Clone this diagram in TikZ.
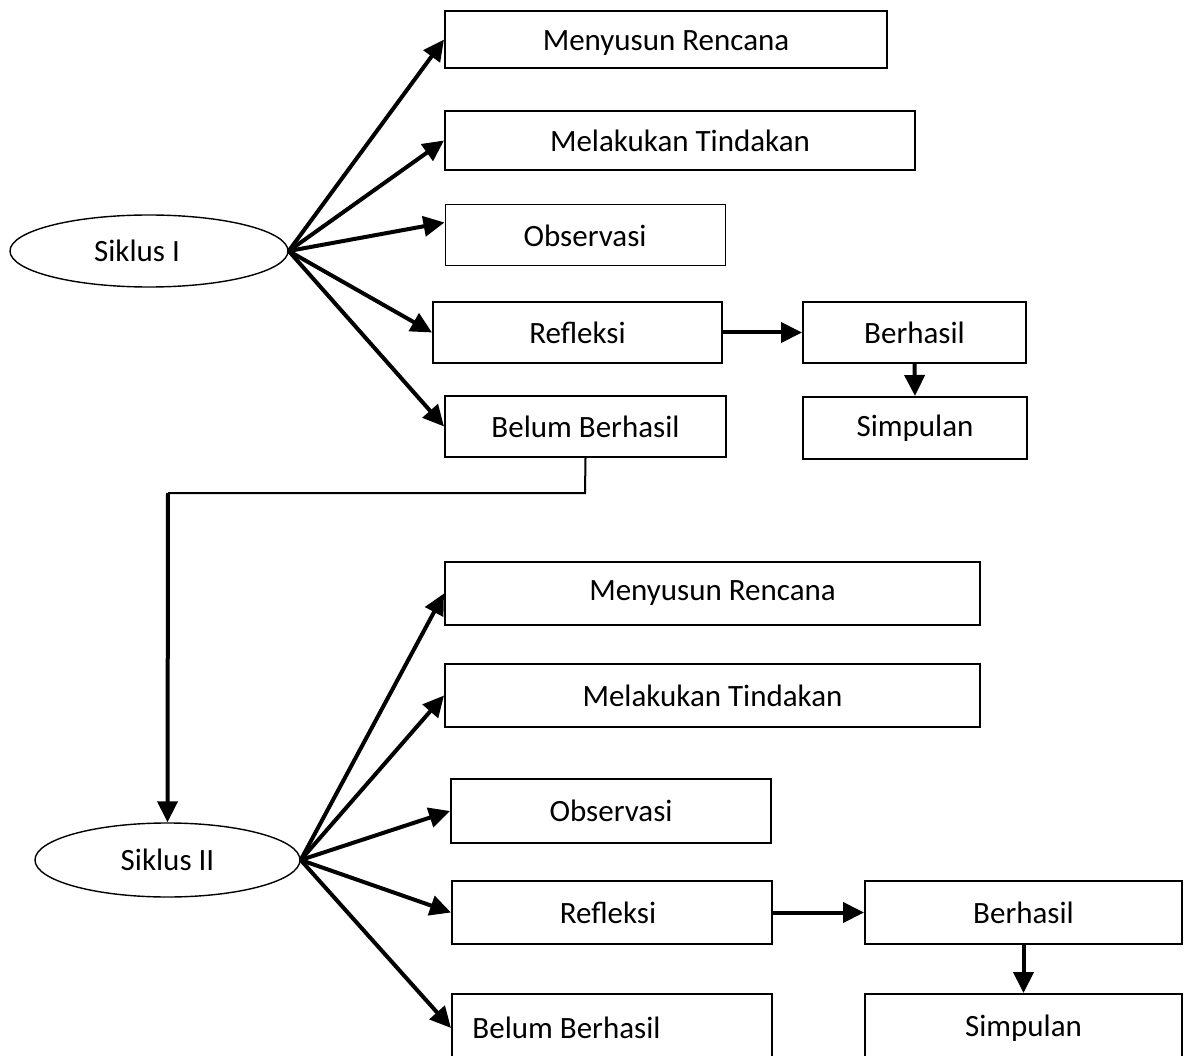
\documentclass[tikz,border=0pt]{standalone}
\usepackage{fontspec}
\setmainfont{Carlito}
\usetikzlibrary{shapes.geometric,arrows.meta}
\begin{document}
\begin{tikzpicture}[x=1pt,y=-1pt,
  box/.style={draw, line width=2pt, rectangle, inner sep=0pt, font=\fontsize{31}{37}\selectfont},
  oval/.style={draw, line width=1.4pt, ellipse, inner sep=0pt, font=\fontsize{31}{37}\selectfont},
  arr/.style={line width=4pt, -{Triangle[length=21pt,width=20pt]}},
  conn/.style={line width=2pt}]
\useasboundingbox (0,0) rectangle (1186,1056);
\fill[white] (0,0) rectangle (1186,1056);
\clip (0,0) rectangle (1186,1056);
% top cycle
\node[oval, minimum width=278, minimum height=72] (s1) at (149,251) {Siklus I\kern24pt};
\node[box, minimum width=442, minimum height=57, text height=29pt, text depth=6pt] (t1) at (666,39.5) {Menyusun Rencana};
\node[box, minimum width=470, minimum height=59] (t2) at (680,140.5) {Melakukan Tindakan};
\node[box, line width=1pt, minimum width=280, minimum height=61] (t3) at (585,235.5) {Observasi};
\node[box, minimum width=289, minimum height=61] (t4) at (577.5,332.5) {Refleksi};
\node[box, minimum width=281, minimum height=61] (t5) at (585.5,426.5) {Belum Berhasil};
\node[box, minimum width=223, minimum height=61] (t6) at (914.5,332.5) {Berhasil};
\node[box, minimum width=224, minimum height=62] (t7) at (915,428) {Simpulan};
\draw[arr] (s1.east) -- (t1.west);
\draw[arr] (s1.east) -- (t2.west);
\draw[arr] (s1.east) -- ([yshift=13pt]t3.west);
\draw[arr] (s1.east) -- (t4.west);
\draw[arr] (s1.east) -- (t5.west);
\draw[arr] (t4.east) -- (t6.west);
\draw[arr] (t6.south) -- (t7.north);
% bottom cycle
\node[oval, minimum width=265, minimum height=74] (s2) at (167.5,860) {Siklus II};
\node[box, minimum width=535, minimum height=63] (u1) at (712.5,593.5) {Menyusun Rencana};
\node[box, minimum width=535, minimum height=63] (u2) at (712.5,695.5) {Melakukan Tindakan};
\node[box, minimum width=320, minimum height=64] (u3) at (611,811) {Observasi};
\node[box, minimum width=320, minimum height=63] (u4) at (612,912.5) {Refleksi\kern8pt};
\node[box, minimum width=320, minimum height=68] (u5) at (612,1028) {Belum Berhasil\kern91pt};
\node[box, minimum width=317, minimum height=63] (u6) at (1023.5,912.5) {Berhasil};
\node[box, minimum width=317, minimum height=68] (u7) at (1023.5,1028) {Simpulan};
\draw[arr] (s2.east) -- (u1.west);
\draw[arr] (s2.east) -- (u2.west);
\draw[arr] (s2.east) -- (u3.west);
\draw[arr] (s2.east) -- (u4.west);
\draw[arr] (s2.east) -- (u5.west);
\draw[arr] (u4.east) -- (u6.west);
\draw[arr] (u6.south) -- (u7.north);
% link between cycles
\coordinate (c1) at (585,493);
\coordinate (c2) at (168,493);
\draw[conn] (t5.south) -- (c1) -- (c2);
\draw[arr] (c2) -- (s2.north);
\end{tikzpicture}
\end{document}
